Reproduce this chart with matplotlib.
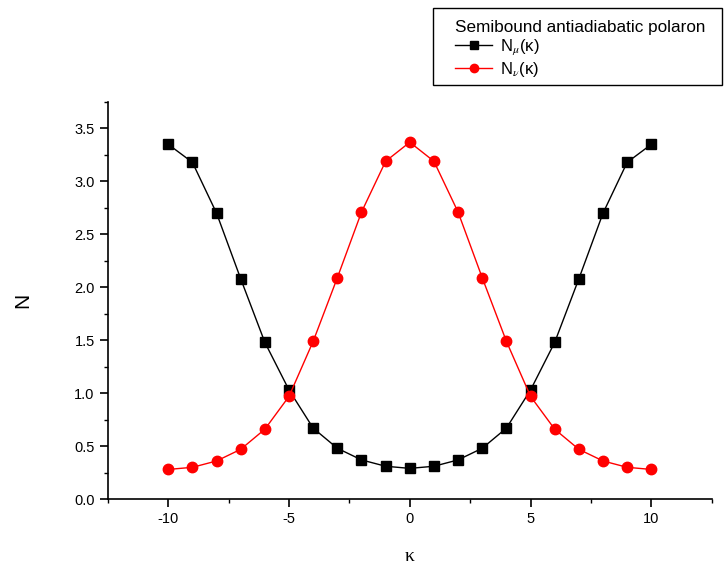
import matplotlib
matplotlib.use("Agg")
import matplotlib.pyplot as plt
from matplotlib.ticker import MultipleLocator, FormatStrFormatter
from matplotlib.patches import Rectangle

plt.rcParams["font.family"] = ["Liberation Sans", "DejaVu Sans"]
plt.rcParams["mathtext.fontset"] = "stix"
plt.rcParams["axes.unicode_minus"] = False

# data
kappa = [-10, -9, -8, -7, -6, -5, -4, -3, -2, -1, 0, 1, 2, 3, 4, 5, 6, 7, 8, 9, 10]
n_mu = [3.35, 3.18, 2.70, 2.08, 1.48, 1.03, 0.67, 0.48, 0.37, 0.31, 0.29,
        0.31, 0.37, 0.48, 0.67, 1.03, 1.48, 2.08, 2.70, 3.18, 3.35]
n_nu = [0.28, 0.30, 0.36, 0.47, 0.66, 0.97, 1.49, 2.09, 2.71, 3.19, 3.37,
        3.19, 2.71, 2.09, 1.49, 0.97, 0.66, 0.47, 0.36, 0.30, 0.28]

W, H = 724, 573
fig = plt.figure(figsize=(W / 100, H / 100), dpi=100)
ax = fig.add_axes([0.149, 0.129, 0.834, 0.693])

l1, = ax.plot(kappa, n_mu, color="black", lw=1.0, marker="s", ms=6.5,
              mec="black", mfc="black", label=r"N$_\mu$(κ)")
l2, = ax.plot(kappa, n_nu, color="red", lw=1.0, marker="o", ms=7.5,
              mec="red", mfc="red", label=r"N$_\nu$(κ)")

ax.set_xlim(-12.5, 12.5)
ax.set_ylim(0, 3.75)
ax.xaxis.set_major_locator(MultipleLocator(5))
ax.xaxis.set_minor_locator(MultipleLocator(2.5))
ax.yaxis.set_major_locator(MultipleLocator(0.5))
ax.yaxis.set_minor_locator(MultipleLocator(0.25))
ax.yaxis.set_major_formatter(FormatStrFormatter("%.1f"))

for s in ["top", "right"]:
    ax.spines[s].set_visible(False)
for s in ["left", "bottom"]:
    ax.spines[s].set_linewidth(1.2)
ax.tick_params(which="major", direction="out", length=6, width=1.2, labelsize=10.5)
ax.tick_params(which="minor", direction="out", length=3, width=1.0)

ax.set_xlabel("κ", fontsize=14, labelpad=16, family=["Liberation Serif", "DejaVu Serif"])
ax.set_ylabel("N", fontsize=15, labelpad=30)

# legend box drawn by hand (Origin style, wider left padding)
fig.patches.append(Rectangle((433 / W, 1 - 85 / H), 289 / W, 77 / H,
                             transform=fig.transFigure, fill=False,
                             edgecolor="black", lw=1.0))
leg = fig.legend(handles=[l1, l2], title="Semibound antiadiabatic polaron",
                 loc="upper left", bbox_to_anchor=(447 / W, 1 - 12 / H),
                 frameon=False, fontsize=12, title_fontsize=12.3,
                 handlelength=2.2, markerscale=0.8,
                 borderpad=0, labelspacing=0.15, handletextpad=0.5)
leg._legend_box.align = "left"

plt.savefig("out.png", dpi=100)
